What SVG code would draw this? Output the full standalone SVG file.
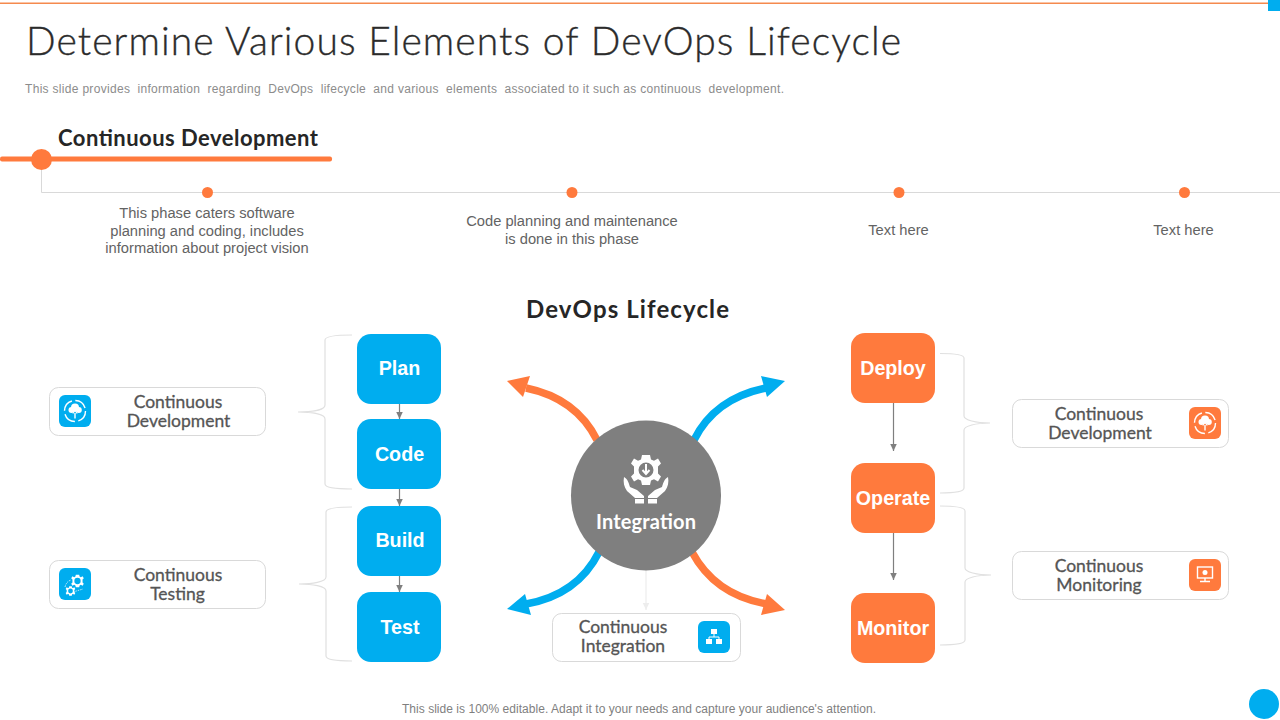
<svg xmlns="http://www.w3.org/2000/svg" width="1280" height="720" viewBox="0 0 1280 720">
<style>
.s{font-family:"Liberation Sans",Arial,sans-serif}
.g{font-family:Lato,"Open Sans",sans-serif}
.nl{font-family:"Liberation Sans",Arial,sans-serif;font-weight:700;font-size:19.7px;fill:#fff;text-anchor:middle}
.cl{font-family:Lato,"Open Sans",sans-serif;font-weight:400;font-size:17.5px;fill:#555;stroke:#555;stroke-width:.3;text-anchor:middle}
.bt{font-family:"Liberation Sans",Arial,sans-serif;font-size:14.7px;fill:#636363;text-anchor:middle}
.card{fill:#fff;stroke:#d9d9d9;stroke-width:1}
.blue{fill:#00adef}.orange{fill:#ff7a3d}
.brace{fill:none;stroke:#e0e0e0;stroke-width:1.2}
.flow{stroke:#7f7f7f;stroke-width:1.2;fill:none;marker-end:url(#ah)}
.ic{fill:none;stroke:#fff;stroke-width:1.4}
.icf{fill:#fff}
</style>
<defs>
<marker id="ah" markerUnits="userSpaceOnUse" markerWidth="9" markerHeight="8" refX="7.5" refY="3.5" orient="auto"><path d="M0 0L7.5 3.500L0 7z" fill="#7f7f7f"/></marker>
<marker id="ahl" markerUnits="userSpaceOnUse" markerWidth="9" markerHeight="8" refX="7.5" refY="3.5" orient="auto"><path d="M0 0L7.5 3.500L0 7z" fill="#ededed"/></marker>
<path id="gear" fill-rule="evenodd" d="M-4-15H4L5-10.500 8-9.200 12-11.500 15-6.500 12-3.500V3.500L15 6.500 12 11.500 8 9.200 5 10.500 4 15H-4L-5 10.500-8 9.200-12 11.500-15 6.500-12 3.500V-3.500L-15-6.500-12-11.500-8-9.200-5-10.500zM0-7.500A7.500 7.500 0 1 0 0 7.500A7.500 7.500 0 1 0 0-7.500z" fill="#fff"/>
<g id="cloudup">
<circle r="10.500" class="ic" stroke-dasharray="13 3.500" stroke-width="1.200"/>
<circle cx="-3.500" cy="-1" r="3" class="icf"/><circle cx="0" cy="-3.500" r="4" class="icf"/><circle cx="3.800" cy="-1" r="3" class="icf"/>
<path d="M0 7.500V2" stroke="#fff" stroke-width="1.400"/>
<path d="M-2.200 2.500L0-.5 2.200 2.500" fill="none" stroke="#fff" stroke-width="1.200"/>
</g>
</defs>
<rect width="1280" height="720" fill="#fff"/>
<g id="header">
<rect x="0" y="2.500" width="1268" height="1.500" fill="#f58a4e"/>
<rect x="1268" y="0" width="12" height="11" fill="#00adef"/>
<text class="g" x="26" y="55" font-size="39" font-weight="300" fill="#2b2b2b" stroke="#2b2b2b" stroke-width=".35" textLength="875" lengthAdjust="spacing">Determine Various Elements of DevOps Lifecycle</text>
<text class="s" x="25" y="92.500" font-size="12" fill="#8c8c8c" textLength="759" lengthAdjust="spacing" style="white-space:pre">This slide provides  information  regarding  DevOps  lifecycle  and various  elements  associated to it such as continuous  development.</text>
<circle cx="1264" cy="704" r="15" fill="#00adef"/>
<text class="s" x="639" y="713" font-size="12" fill="#7f7f7f" text-anchor="middle" textLength="474" lengthAdjust="spacing">This slide is 100% editable. Adapt it to your needs and capture your audience's attention.</text>
</g>
<g id="timeline">
<path d="M41.500 165V192.500H1280" fill="none" stroke="#d9d9d9" stroke-width="1"/>
<rect x="0" y="156.500" width="332" height="5" rx="2" class="orange"/>
<circle cx="41.500" cy="159.500" r="10.500" class="orange"/>
<text class="g" x="58" y="145.500" font-size="22" font-weight="700" fill="#262626" textLength="260" lengthAdjust="spacing">Continuous Development</text>
<circle cx="207.500" cy="192.500" r="5.500" class="orange"/>
<circle cx="572" cy="192.500" r="5.500" class="orange"/>
<circle cx="899" cy="192.500" r="5.500" class="orange"/>
<circle cx="1184.500" cy="192.500" r="5.500" class="orange"/>
<text class="bt" x="207" y="218">This phase caters software</text>
<text class="bt" x="207" y="236">planning and coding, includes</text>
<text class="bt" x="207" y="253">information about project vision</text>
<text class="bt" x="572" y="226">Code planning and maintenance</text>
<text class="bt" x="572" y="244">is done in this phase</text>
<text class="bt" x="898.500" y="235">Text here</text>
<text class="bt" x="1183.500" y="235">Text here</text>
</g>
<text class="g" x="627.500" y="318" font-size="24" font-weight="700" fill="#262626" text-anchor="middle" textLength="203" lengthAdjust="spacing">DevOps Lifecycle</text>
<g id="connectors">
<path class="brace" d="M352 335C340 335 325 336 325 340V405C325 410 312 412 298 412C312 412 325 414 325 419V484C325 488 340 489 352 489"/>
<path class="brace" d="M352 507C340 507 326 508 326 512V577C326 582 312 584 299 584C312 584 326 586 326 591V656C326 660 340 661 352 661"/>
<path class="brace" d="M940 353.500C952 353.500 964 354 964 358V416C964 420 976 423 990 423C976 423 964 426 964 430V488C964 492 952 493 940 493"/>
<path class="brace" d="M940 506C952 506 965 507 965 511V568C965 572 977 575 991 575C977 575 965 578 965 582V640C965 644 952 645 940 645"/>
<path class="flow" d="M399.500 404V419"/>
<path class="flow" d="M399.500 489V506"/>
<path class="flow" d="M399.500 576V592"/>
<path class="flow" d="M893.500 403V451"/>
<path class="flow" d="M893.500 533V580"/>
<path d="M646 570V610" stroke="#ededed" stroke-width="1.2" fill="none" marker-end="url(#ahl)"/>
<g fill="none" stroke-width="7.500">
<path d="M597 440C583 412 560 395 526 388" stroke="#ff7a3d"/>
<path d="M694 440C708 412 731 395 766 388" stroke="#00adef"/>
<path d="M599 552C585 580 560 598 526 604" stroke="#00adef"/>
<path d="M692 552C707 580 732 598 767 604" stroke="#ff7a3d"/>
</g>
<path d="M507 381L530 376L523 397z" class="orange"/>
<path d="M785 381L761 376L767 397z" class="blue"/>
<path d="M507 609L525 594L531 615z" class="blue"/>
<path d="M785 610L767 594L761 615z" class="orange"/>
</g>
<g id="node-plan"><rect x="357" y="334" width="84" height="70" rx="14" class="blue"/><text class="nl" x="399.500" y="375">Plan</text></g>
<g id="node-code"><rect x="357" y="419" width="84" height="70" rx="14" class="blue"/><text class="nl" x="399.500" y="461">Code</text></g>
<g id="node-build"><rect x="357" y="506" width="84" height="70" rx="14" class="blue"/><text class="nl" x="400" y="547">Build</text></g>
<g id="node-test"><rect x="357" y="592" width="84" height="70" rx="14" class="blue"/><text class="nl" x="400" y="634">Test</text></g>
<g id="node-deploy"><rect x="851" y="333" width="84" height="70" rx="14" class="orange"/><text class="nl" x="893" y="375">Deploy</text></g>
<g id="node-operate"><rect x="851" y="463" width="84" height="70" rx="14" class="orange"/><text class="nl" x="893" y="505">Operate</text></g>
<g id="node-monitor"><rect x="851" y="593" width="84" height="70" rx="14" class="orange"/><text class="nl" x="893" y="635">Monitor</text></g>
<g id="node-integration">
<circle cx="646" cy="495.500" r="75" fill="#7f7f7f"/>
<use href="#gear" transform="translate(646 470)"/>
<path d="M646 464V473M642.500 470L646 474 649.500 470" fill="none" stroke="#fff" stroke-width="2"/>
<path class="icf" d="M624 477C628 479 629 484 630 487L637 490 644 496V498H635L627 491C624 487 623 482 624 477z"/>
<path class="icf" d="M668 477C664 479 663 484 662 487L655 490 648 496V498H657L665 491C668 487 669 482 668 477z"/>
<rect x="635" y="499" width="9" height="4.500" class="icf"/><rect x="648" y="499" width="9" height="4.500" class="icf"/>
<text x="646" y="529" font-family="Lato,'Open Sans',sans-serif" font-weight="700" font-size="20" fill="#fff" text-anchor="middle" textLength="100" lengthAdjust="spacing">Integration</text>
</g>
<g id="card-cd-left">
<rect x="49.500" y="387.500" width="216" height="48" rx="9" class="card"/>
<rect x="59" y="395" width="32" height="32" rx="6" class="blue"/>
<use href="#cloudup" x="75" y="411"/>
<text class="cl" x="178" y="408">Continuous</text><text class="cl" x="178.500" y="427">Development</text>
</g>
<g id="card-ct">
<rect x="49.500" y="560.500" width="216" height="48" rx="9" class="card"/>
<rect x="59" y="568" width="32" height="32" rx="6" class="blue"/>
<use href="#gear" transform="translate(77.500 581) scale(.42)"/>
<use href="#gear" transform="translate(70.500 591) scale(.32)"/>
<path d="M65 587C66 583 68 581 71 580M73 592L83 589" fill="none" stroke="#fff" stroke-width=".7" stroke-dasharray="1.500 1"/>
<text class="cl" x="178" y="581">Continuous</text><text class="cl" x="177.500" y="600">Testing</text>
</g>
<g id="card-ci">
<rect x="552.500" y="613.500" width="188" height="48" rx="9" class="card"/>
<rect x="698" y="621" width="32" height="32" rx="6" class="blue"/>
<rect x="711" y="629" width="6" height="5" class="icf"/><rect x="706" y="639" width="6" height="5" class="icf"/><rect x="716" y="639" width="6" height="5" class="icf"/>
<path d="M714 634V637M709 639V637H719V639" fill="none" stroke="#fff"/>
<text class="cl" x="623" y="633">Continuous</text><text class="cl" x="623" y="652">Integration</text>
</g>
<g id="card-cd-right">
<rect x="1012.500" y="399.500" width="216" height="48" rx="9" class="card"/>
<rect x="1189" y="407" width="32" height="32" rx="6" class="orange"/>
<use href="#cloudup" x="1205" y="423"/>
<text class="cl" x="1099" y="420">Continuous</text><text class="cl" x="1100" y="439">Development</text>
</g>
<g id="card-cm">
<rect x="1012.500" y="551.500" width="216" height="48" rx="9" class="card"/>
<rect x="1189" y="559" width="32" height="32" rx="6" class="orange"/>
<rect x="1197.500" y="567" width="15" height="11" class="ic"/>
<circle cx="1205" cy="572.500" r="2.500" class="icf"/>
<path class="ic" d="M1205 578V581M1200 581.500H1210"/>
<text class="cl" x="1099" y="572">Continuous</text><text class="cl" x="1099" y="591">Monitoring</text>
</g>
</svg>
